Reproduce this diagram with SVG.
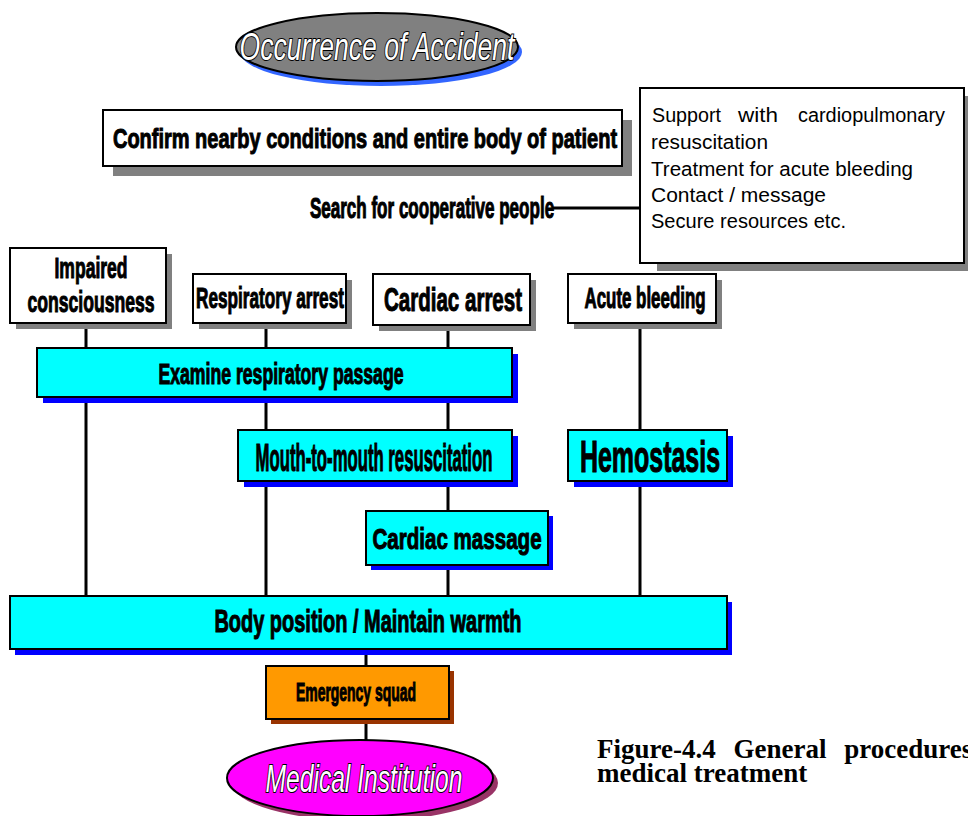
<svg xmlns="http://www.w3.org/2000/svg" width="968" height="816" viewBox="0 0 968 816">
<style>
.box{fill:#fff;stroke:#000;stroke-width:2}
.cy{fill:#00FFFF;stroke:#000;stroke-width:2}
.gs{fill:#808080}
.bs{fill:#0000FF}
.t{font-family:"Liberation Sans",Arial,sans-serif;font-weight:bold;fill:#000;stroke:#000;stroke-width:0.9;text-anchor:middle;dominant-baseline:central;vector-effect:non-scaling-stroke}
.o{font-family:"Liberation Sans",Arial,sans-serif;font-style:italic;fill:#fff;stroke:#000;stroke-width:1.8;paint-order:stroke;text-anchor:middle;dominant-baseline:central;vector-effect:non-scaling-stroke}
.m{font-family:"Liberation Sans",Arial,sans-serif;font-size:20px;fill:#000}
.ln{stroke:#000;stroke-width:3;fill:none}
.cap{font-family:"Liberation Serif","Times New Roman",serif;font-weight:bold;font-size:27px;fill:#000}
</style>
<rect width="968" height="816" fill="#fff"/>
<g id="connectors">
<line class="ln" x1="86" y1="323" x2="86" y2="596"/>
<line class="ln" x1="266" y1="323" x2="266" y2="596"/>
<line class="ln" x1="448" y1="325" x2="448" y2="596"/>
<line class="ln" x1="640" y1="323" x2="640" y2="596"/>
<line class="ln" x1="366" y1="649" x2="366" y2="750"/>
<line class="ln" x1="552" y1="208" x2="641" y2="208"/>
</g>
<g id="occurrence">
<ellipse cx="381" cy="52" rx="141" ry="34" fill="#3366FF"/>
<ellipse cx="377" cy="47" rx="141" ry="34" fill="#808080" stroke="#000" stroke-width="2"/>
<text class="o" transform="translate(377,47) scale(0.679,1)" font-size="39" textLength="405" lengthAdjust="spacingAndGlyphs">Occurrence of Accident</text>
</g>
<g id="confirm">
<rect class="gs" x="113" y="120" width="519" height="56"/>
<rect class="box" x="103" y="110" width="519" height="56"/>
<text class="t" transform="translate(365,138) scale(0.714,1)" font-size="28" textLength="706" lengthAdjust="spacingAndGlyphs">Confirm nearby conditions and entire body of patient</text>
</g>
<g id="search">
<text class="t" transform="translate(432,208) scale(0.587,1)" font-size="29" textLength="416" lengthAdjust="spacingAndGlyphs">Search for cooperative people</text>
</g>
<g id="support">
<rect class="gs" x="657" y="96" width="320" height="175"/>
<rect class="box" x="640" y="88" width="324" height="175"/>
<text class="m" x="652" y="122" textLength="69" lengthAdjust="spacingAndGlyphs">Support</text>
<text class="m" x="738" y="122" textLength="40" lengthAdjust="spacingAndGlyphs">with</text>
<text class="m" x="798" y="122" textLength="147" lengthAdjust="spacingAndGlyphs">cardiopulmonary</text>
<text class="m" x="651" y="149" textLength="117" lengthAdjust="spacingAndGlyphs">resuscitation</text>
<text class="m" x="651" y="176" textLength="262" lengthAdjust="spacingAndGlyphs">Treatment for acute bleeding</text>
<text class="m" x="651" y="202" textLength="175" lengthAdjust="spacingAndGlyphs">Contact / message</text>
<text class="m" x="651" y="228" textLength="195" lengthAdjust="spacingAndGlyphs">Secure resources etc.</text>
</g>
<g id="impaired">
<rect class="gs" x="16" y="254" width="156" height="75"/>
<rect class="box" x="10" y="248" width="156" height="75"/>
<text class="t" transform="translate(91,268) scale(0.584,1)" font-size="30" textLength="125" lengthAdjust="spacingAndGlyphs">Impaired</text>
<text class="t" transform="translate(91,302) scale(0.586,1)" font-size="30" textLength="217" lengthAdjust="spacingAndGlyphs">consciousness</text>
</g>
<g id="respiratory">
<rect class="gs" x="199" y="280" width="153" height="49"/>
<rect class="box" x="193" y="274" width="153" height="49"/>
<text class="t" transform="translate(270,298) scale(0.573,1)" font-size="30" textLength="258" lengthAdjust="spacingAndGlyphs">Respiratory arrest</text>
</g>
<g id="cardiac">
<rect class="gs" x="379" y="280" width="157" height="51"/>
<rect class="box" x="373" y="274" width="157" height="51"/>
<text class="t" transform="translate(453,300) scale(0.622,1)" font-size="33" textLength="222" lengthAdjust="spacingAndGlyphs">Cardiac arrest</text>
</g>
<g id="bleeding">
<rect class="gs" x="574" y="280" width="148" height="49"/>
<rect class="box" x="568" y="274" width="148" height="49"/>
<text class="t" transform="translate(645,298) scale(0.563,1)" font-size="30" textLength="215" lengthAdjust="spacingAndGlyphs">Acute bleeding</text>
</g>
<g id="examine">
<rect class="bs" x="43" y="354" width="475" height="49"/>
<rect class="cy" x="37" y="348" width="475" height="49"/>
<text class="t" transform="translate(281,374) scale(0.608,1)" font-size="29" textLength="403" lengthAdjust="spacingAndGlyphs">Examine respiratory passage</text>
</g>
<g id="mouth">
<rect class="bs" x="244" y="436" width="274" height="51"/>
<rect class="cy" x="238" y="430" width="274" height="51"/>
<text class="t" transform="translate(374,457) scale(0.429,1)" font-size="39" textLength="552" lengthAdjust="spacingAndGlyphs">Mouth-to-mouth resuscitation</text>
</g>
<g id="hemostasis">
<rect class="bs" x="574" y="436" width="159" height="51"/>
<rect class="cy" x="568" y="430" width="159" height="51"/>
<text class="t" transform="translate(650,457) scale(0.554,1)" font-size="45" textLength="253" lengthAdjust="spacingAndGlyphs">Hemostasis</text>
</g>
<g id="massage">
<rect class="bs" x="371" y="516" width="182" height="54"/>
<rect class="cy" x="366" y="511" width="182" height="54"/>
<text class="t" transform="translate(457,538) scale(0.685,1)" font-size="30" textLength="247" lengthAdjust="spacingAndGlyphs">Cardiac massage</text>
</g>
<g id="body">
<rect class="bs" x="15" y="602" width="717" height="53"/>
<rect class="cy" x="10" y="596" width="717" height="53"/>
<text class="t" transform="translate(368,621) scale(0.623,1)" font-size="32" textLength="493" lengthAdjust="spacingAndGlyphs">Body position / Maintain warmth</text>
</g>
<g id="squad">
<rect x="271" y="671" width="183" height="53" fill="#993300"/>
<rect x="266" y="666" width="183" height="53" fill="#FF9900" stroke="#000" stroke-width="2"/>
<text class="t" transform="translate(356,692) scale(0.536,1)" font-size="26" textLength="224" lengthAdjust="spacingAndGlyphs">Emergency squad</text>
</g>
<g id="medical">
<ellipse cx="365" cy="783" rx="133" ry="38" fill="#993366"/>
<ellipse cx="360" cy="778" rx="133" ry="38" fill="#FF00FF" stroke="#000" stroke-width="2"/>
<text class="o" transform="translate(364,778) scale(0.631,1)" font-size="39" textLength="312" lengthAdjust="spacingAndGlyphs">Medical Institution</text>
</g>
<g id="caption">
<text class="cap" x="597" y="758" word-spacing="11">Figure-4.4 General procedures</text>
<text class="cap" x="597" y="782">medical treatment</text>
</g>
</svg>
